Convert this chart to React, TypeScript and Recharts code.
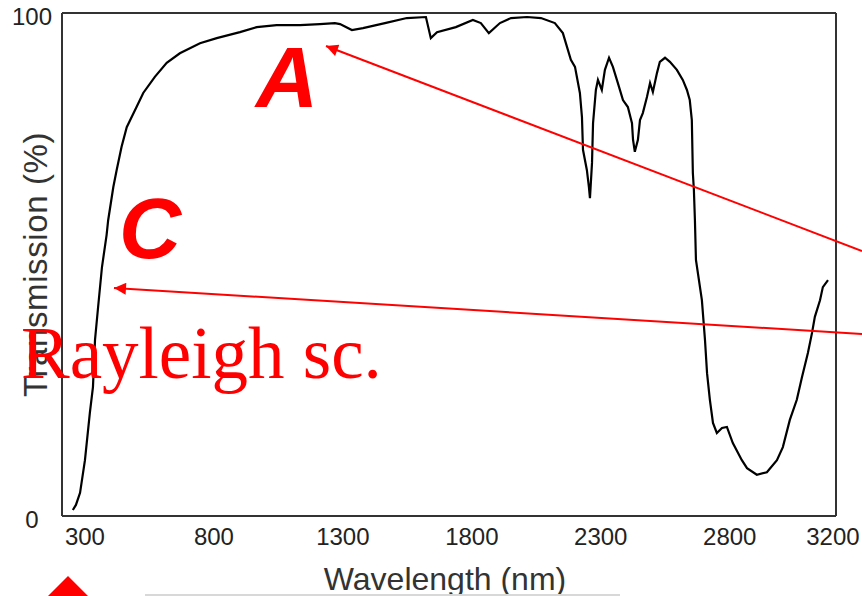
import React from "react";
import { LineChart, Line, XAxis, YAxis } from "recharts";

// Wavelength (nm)
const wavelength = [
  253, 265, 281, 300, 319, 331, 339, 350, 366, 384, 390, 410, 423, 442, 462, 500, 526, 571, 617, 668,
  746, 811, 901, 966, 1043, 1134, 1211, 1269, 1289, 1335, 1378, 1463, 1548, 1622, 1641, 1665, 1738,
  1804, 1835, 1866, 1909, 1952, 2014, 2068, 2122, 2153, 2184, 2200, 2219, 2227, 2231, 2246, 2254,
  2258, 2266, 2270, 2281, 2289, 2304, 2316, 2332, 2347, 2366, 2386, 2405, 2421, 2425, 2432, 2444,
  2452, 2463, 2479, 2491, 2502, 2518, 2529, 2549, 2568, 2595, 2618, 2634, 2645, 2653, 2657, 2661,
  2665, 2669, 2692, 2704, 2712, 2723, 2735, 2750, 2770, 2789, 2812, 2847, 2867, 2905, 2944, 2983,
  3006, 3033, 3060, 3080, 3103, 3119, 3130, 3150, 3161, 3181,
];

// Transmission (%)
const transmission = [
  1.2, 2.2, 4.6, 11.1, 20.5, 25.6, 35.0, 41.0, 49.5, 55.9, 58.8, 65.4, 68.8, 73.4, 77.3, 81.3, 84.1,
  87.3, 90.1, 92.0, 94.0, 95.0, 96.2, 97.2, 97.6, 97.6, 97.8, 98.0, 97.8, 96.6, 97.0, 98.0, 99.0,
  99.2, 95.0, 96.2, 97.2, 98.6, 98.0, 96.0, 98.0, 99.0, 99.2, 99.0, 98.0, 96.0, 90.7, 89.3, 84.1,
  79.3, 72.8, 68.8, 65.4, 63.2, 70.2, 78.1, 84.7, 86.7, 84.7, 88.7, 91.1, 89.3, 86.1, 82.7, 81.3,
  78.1, 74.8, 72.4, 74.8, 78.7, 80.1, 83.3, 86.1, 84.3, 88.1, 90.3, 91.1, 90.3, 88.7, 86.7, 84.7,
  82.7, 78.7, 68.2, 64.8, 58.8, 50.9, 42.9, 35.0, 28.4, 23.1, 18.5, 16.5, 17.5, 17.7, 14.5, 11.1,
  9.5, 8.2, 8.7, 11.1, 13.7, 19.1, 23.1, 27.6, 32.4, 36.4, 39.6, 42.9, 45.5, 46.9,
];

const xTicks = [300, 800, 1300, 1800, 2300, 2800, 3200];
const yTicks = [0, 100];
const xDomain = [211, 3212];
const yDomain = [0, 100];

const xTitle = "Wavelength (nm)";
const yTitle = "Transmission (%)";
const noteA = "A";
const noteC = "C";
const noteRayleigh = "Rayleigh sc.";

const data = wavelength.map((nm, i) => ({ nm, t: transmission[i] }));

const BORDER = "#333";
const tickStyle = { fontFamily: "'Liberation Sans', Arial, sans-serif", fontSize: 24, fill: "#222" };
const titleStyle = { fontFamily: "'Liberation Sans', Arial, sans-serif", fontSize: 32, fill: "#333" };

export default function App() {
  return (
    <div
      style={{
        position: "fixed",
        left: 0,
        top: 0,
        width: 862,
        height: 596,
        overflow: "hidden",
        background: "#fff",
      }}
    >
      <LineChart
        width={862}
        height={596}
        data={data}
        margin={{ top: 12, right: 25, bottom: 0, left: 0 }}
      >
        <XAxis
          xAxisId="b"
          dataKey="nm"
          type="number"
          domain={xDomain}
          allowDataOverflow
          ticks={xTicks}
          interval={0}
          height={80}
          tickLine={false}
          tickSize={6}
          tickMargin={6}
          axisLine={{ stroke: BORDER, strokeWidth: 2 }}
          tick={tickStyle}
          label={{ value: xTitle, position: "insideBottom", offset: 6, dx: -4, style: titleStyle }}
        />
        <XAxis
          xAxisId="t"
          dataKey="nm"
          type="number"
          domain={xDomain}
          allowDataOverflow
          orientation="top"
          height={1}
          tick={false}
          tickLine={false}
          axisLine={{ stroke: BORDER, strokeWidth: 2 }}
        />
        <YAxis
          yAxisId="l"
          type="number"
          domain={yDomain}
          ticks={yTicks}
          interval={0}
          width={62}
          tickLine={false}
          tickSize={6}
          tickMargin={24}
          axisLine={{ stroke: BORDER, strokeWidth: 2 }}
          tick={{ ...tickStyle, textAnchor: "middle", dy: 3.5 }}
          label={{
            value: yTitle,
            angle: -90,
            position: "insideLeft",
            offset: 35,
            style: { ...titleStyle, fontSize: 33, letterSpacing: 0.6, textAnchor: "middle" },
          }}
        />
        <YAxis
          yAxisId="r"
          type="number"
          domain={yDomain}
          orientation="right"
          width={1}
          tick={false}
          tickLine={false}
          axisLine={{ stroke: BORDER, strokeWidth: 2 }}
        />
        <Line
          xAxisId="b"
          yAxisId="l"
          dataKey="t"
          type="linear"
          stroke="#000"
          strokeWidth={2.2}
          dot={false}
          isAnimationActive={false}
        />
      </LineChart>
      <svg
        width={862}
        height={596}
        style={{ position: "absolute", left: 0, top: 0, pointerEvents: "none" }}
      >
        <defs>
          <marker id="ah2" viewBox="0 0 10 10" refX="10" refY="5" markerWidth="17" markerHeight="12" orient="auto" markerUnits="userSpaceOnUse">
            <path d="M0,0 L10,5 L0,10 z" fill="#ff0000" />
          </marker>
        </defs>
        <line x1={862} y1={251} x2={326} y2={46} stroke="#ff0000" strokeWidth={2} markerEnd="url(#ah2)" />
        <line x1={862} y1={334} x2={114} y2={288} stroke="#ff0000" strokeWidth={2} markerEnd="url(#ah2)" />
        <text
          x={21}
          y={378}
          fill="#ff0000"
          style={{ fontFamily: "'Liberation Serif', 'Times New Roman', serif", fontSize: 73 }}
        >
          {noteRayleigh}
        </text>
        <text
          x={256}
          y={107}
          fill="#ff0000"
          style={{
            fontFamily: "'Liberation Sans Narrow', 'Liberation Sans', sans-serif",
            fontSize: 86,
            fontWeight: "bold",
            fontStyle: "italic",
          }}
        >
          {noteA}
        </text>
        <text
          x={119}
          y={258}
          fill="#ff0000"
          style={{
            fontFamily: "'Liberation Sans Narrow', 'Liberation Sans', sans-serif",
            fontSize: 86,
            fontWeight: "bold",
            fontStyle: "italic",
          }}
        >
          {noteC}
        </text>
        <polygon points="40,604 68,576 96,604" fill="#ff0000" />
        <line x1={145} y1={595} x2={620} y2={595} stroke="#d8d8d8" strokeWidth={2} />
      </svg>
    </div>
  );
}
